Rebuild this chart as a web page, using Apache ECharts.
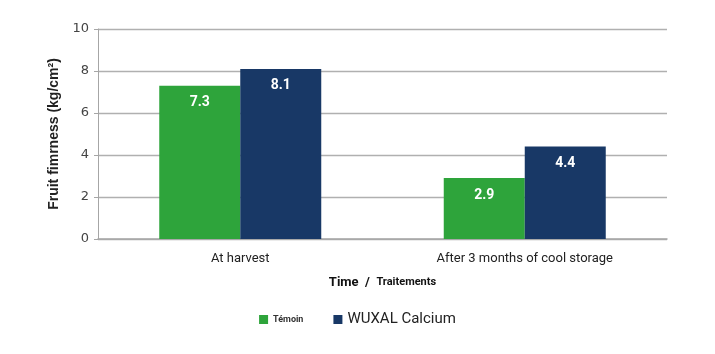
<!DOCTYPE html>
<html>
<head>
<meta charset="utf-8">
<script src="https://cdn.jsdelivr.net/npm/echarts@6/dist/echarts.min.js"></script>
<style>
    html, body { margin: 0; padding: 0; background: #fff; }
    #chart { width: 715px; height: 354px; }
</style>
</head>
<body>
<div id="chart"></div>
<script>
const categories = ['At harvest', 'After 3 months of cool storage'];
const seriesNames = ['Témoin', 'WUXAL Calcium'];
const temoinValues = [7.3, 2.9];
const wuxalValues = [8.1, 4.4];

const chart = echarts.init(document.getElementById('chart'));

const labelStyle = {
    show: true,
    position: 'insideTop',
    distance: 10,
    color: '#fff',
    fontWeight: 'bold',
    fontSize: 14,
    fontFamily: 'Roboto, sans-serif',
    formatter: p => p.value.toFixed(1)
};

const option = {
    animation: false,
    grid: { left: 98, right: 48, top: 29, bottom: 115 },
    legend: {
        bottom: 22,
        left: 'center',
        icon: 'rect',
        itemWidth: 9,
        itemHeight: 9,
        itemGap: 30,
        data: seriesNames,
        formatter: name => name === 'Témoin' ? '{s|' + name + '}' : '{l|' + name + '}',
        textStyle: {
            rich: {
                s: { fontSize: 9, fontWeight: 'bold', color: '#333', fontFamily: 'Roboto, sans-serif' },
                l: { fontSize: 15, color: '#222', fontFamily: 'Roboto, sans-serif' }
            }
        }
    },
    xAxis: {
        type: 'category',
        data: categories,
        axisTick: { show: false },
        axisLine: { lineStyle: { color: '#a6a6a6', width: 1.5 } },
        axisLabel: { color: '#222', fontSize: 13, margin: 13, fontFamily: 'Roboto, sans-serif' },
        name: '{a|Time  /  }{b|Traitements}',
        nameLocation: 'middle',
        nameGap: 37,
        nameTextStyle: {
            rich: {
                a: { fontSize: 13, fontWeight: 'bold', color: '#111', fontFamily: 'Roboto, sans-serif' },
                b: { fontSize: 11, fontWeight: 'bold', color: '#111', fontFamily: 'Roboto, sans-serif' }
            }
        }
    },
    yAxis: {
        type: 'value',
        min: 0,
        max: 10,
        interval: 2,
        name: 'Fruit fimrness (kg/cm²)',
        nameLocation: 'middle',
        nameGap: 20,
        nameTextStyle: {
            fontSize: 14,
            fontWeight: 'bold',
            color: '#222',
            fontFamily: '"Liberation Sans", sans-serif',
            padding: [0, 0, 8, 0]
        },
        axisLine: { show: true, lineStyle: { color: '#a6a6a6', width: 1 } },
        axisTick: { show: true, length: 4, lineStyle: { color: '#a6a6a6' } },
        axisLabel: { color: '#444', fontSize: 13, margin: 9, fontFamily: '"DejaVu Sans", sans-serif' },
        splitLine: { lineStyle: { color: '#b0b0b0', width: 1.3 } }
    },
    series: [
        {
            name: seriesNames[0],
            type: 'bar',
            data: temoinValues,
            barWidth: 81,
            barGap: '0%',
            itemStyle: { color: '#2ea43b' },
            label: labelStyle
        },
        {
            name: seriesNames[1],
            type: 'bar',
            data: wuxalValues,
            barWidth: 81,
            itemStyle: { color: '#183866' },
            label: labelStyle
        }
    ]
};
chart.setOption(option);
</script>
</body>
</html>
